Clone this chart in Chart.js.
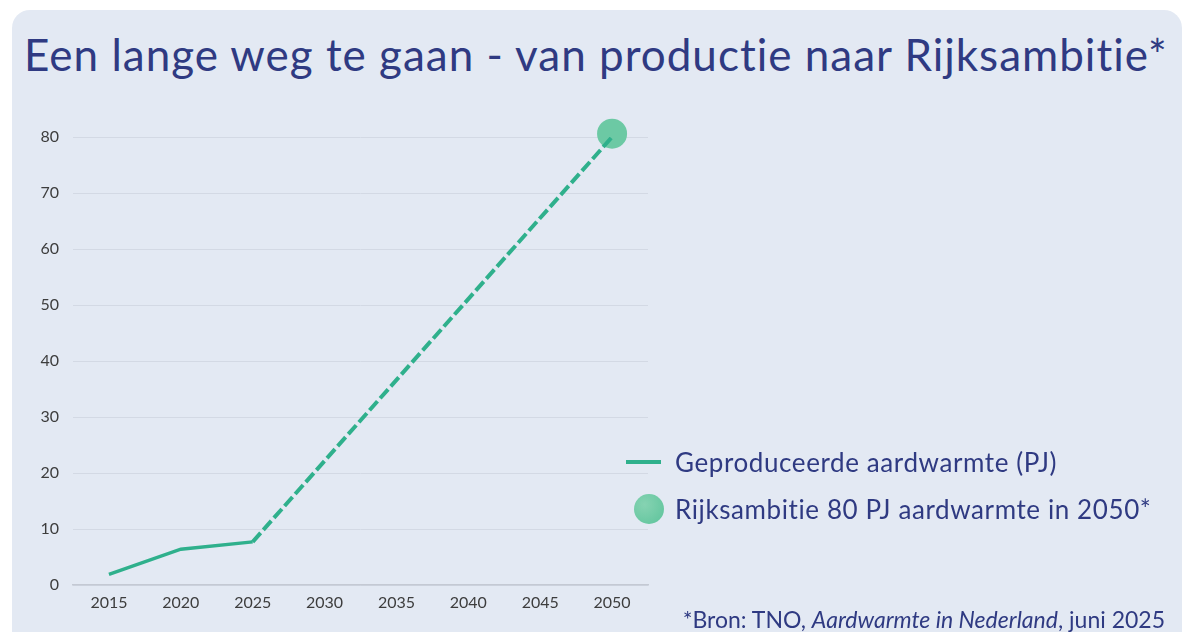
<!DOCTYPE html>
<html><head><meta charset="utf-8">
<script src="https://cdn.jsdelivr.net/npm/chart.js@4/dist/chart.umd.min.js"></script>
<style>
html,body{margin:0;padding:0;background:#fff;width:1185px;height:632px;overflow:hidden;font-family:Lato,"Open Sans",sans-serif;}
#card{position:absolute;left:12px;top:10px;width:1170px;height:640px;background:#e3e9f3;border-radius:18px;}
#title{position:absolute;left:24px;top:28px;font-size:44px;letter-spacing:1px;color:#2f3a82;white-space:nowrap;}
#wrap{position:absolute;left:0;top:0;width:1185px;height:632px;}
.leg{position:absolute;left:675px;font-size:26px;letter-spacing:0.6px;color:#2f3a82;white-space:nowrap;}
#foot{position:absolute;right:20px;top:605px;font-size:23px;color:#2f3a82;white-space:nowrap;}
#l1line{position:absolute;left:626px;top:460px;width:35px;height:4px;background:#2fb08c;}
#l2dot{position:absolute;left:634px;top:494px;width:30px;height:30px;border-radius:50%;background:radial-gradient(circle at 35% 35%,#86d3b2,#5cc39b);}
</style></head>
<body>
<div id="card"></div>
<div id="title">Een lange weg te gaan - van productie naar Rijksambitie*</div>
<div id="wrap"><canvas id="c" width="1185" height="632"></canvas></div>
<div id="l1line"></div>
<div class="leg" style="top:446px">Geproduceerde aardwarmte (PJ)</div>
<div id="l2dot"></div>
<div class="leg" style="top:493px">Rijksambitie 80 PJ aardwarmte in 2050*</div>
<div id="foot">*Bron: TNO, <i>Aardwarmte in Nederland</i>, juni 2025</div>
<script>
const years = ['2015','2020','2025','2030','2035','2040','2045','2050'];
const produced = [1.9, 6.4, 7.7, null, null, null, null, null];
const pathway = [null, null, 7.7, null, null, null, null, 80];
const ambition = [null, null, null, null, null, null, null, 80.6];
const yTicks = [0,10,20,30,40,50,60,70,80];

const teal = '#2fb08c';
new Chart(document.getElementById('c'), {
  type: 'line',
  data: {
    labels: years,
    datasets: [
      {label:'Geproduceerde aardwarmte (PJ)', data: produced, borderColor: teal, borderWidth: 3.5, pointRadius: 0, tension: 0, fill:false},
      {label:'Pad', data: pathway, borderColor: teal, borderWidth: 4, borderDash:[12,4], spanGaps:true, pointRadius: 0, tension: 0, fill:false},
      {label:'Rijksambitie 80 PJ aardwarmte in 2050*', data: ambition, showLine:false, pointRadius: 15, pointHoverRadius: 15, pointBackgroundColor:'#6cc9a4', pointBorderWidth:0, clip:false}
    ]
  },
  options: {
    responsive:false, animation:false, devicePixelRatio:1,
    layout:{padding:{left:20, right:537, top:137, bottom:17}},
    plugins:{legend:{display:false}, tooltip:{enabled:false}},
    scales:{
      x:{offset:true, grid:{display:false, drawTicks:false}, border:{display:true, color:'#c4c9d3', width:1.5},
         ticks:{padding:8, color:'#3d3d3d', font:{family:'Lato', size:16}},
         afterFit: s => { s.height = 30; }},
      y:{min:0, max:80, afterBuildTicks: s => { s.ticks = yTicks.map(v=>({value:v})); },
         grid:{color:'#d3d9e4', lineWidth:1, drawTicks:false}, border:{display:false},
         ticks:{padding:14, color:'#3d3d3d', font:{family:'Lato', size:16}},
         afterFit: s => { s.width = 53; }}
    }
  }
});
</script>
</body></html>
